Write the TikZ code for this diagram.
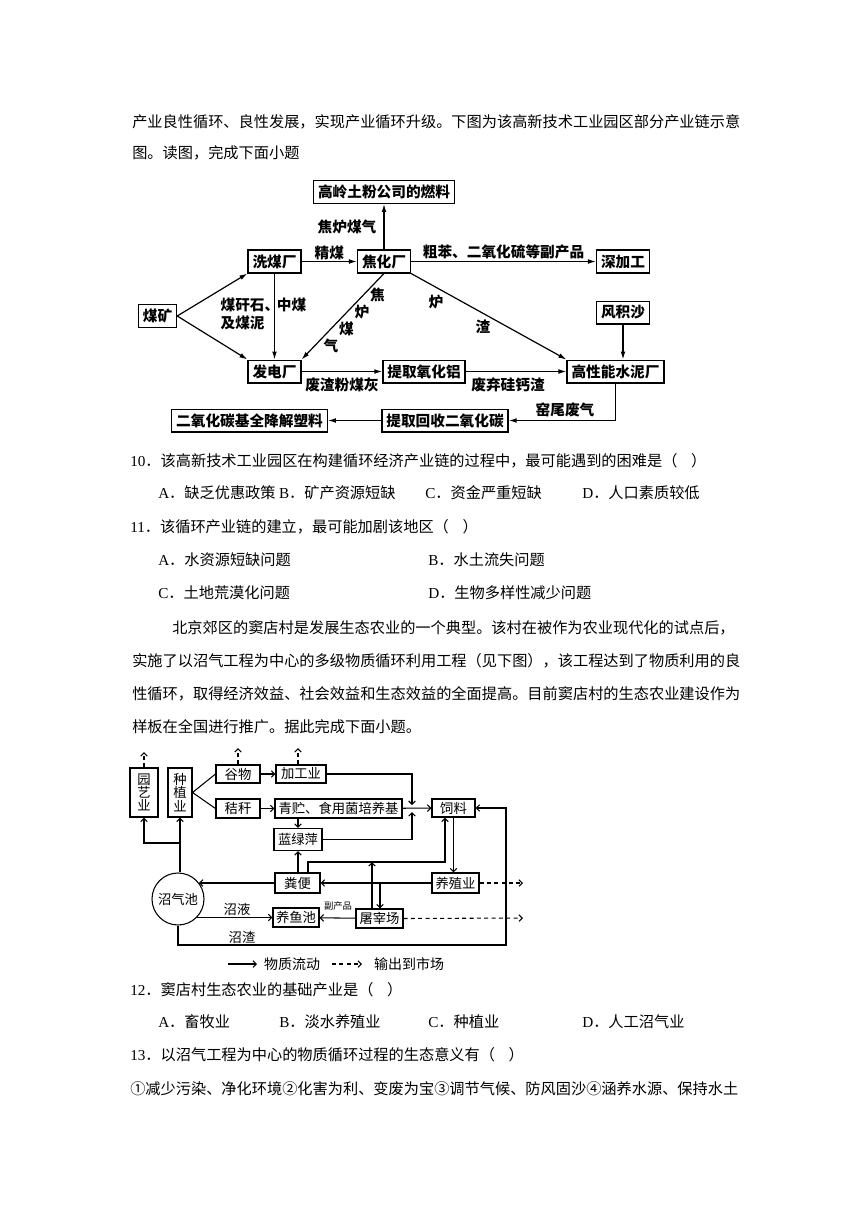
\documentclass[tikz,border=0pt]{standalone}
\usepackage{fontspec}
\newfontfamily\cjk{Noto Sans CJK SC}
\newfontfamily\lat{Liberation Serif}
\usetikzlibrary{arrows.meta,positioning,calc}
\XeTeXlinebreaklocale "zh"
\XeTeXlinebreakskip=0pt plus 2pt
\newcommand\jline[2]{\makebox[#1][s]{#2}}
\newcommand\kuohao{（\hspace{0.9em}）}
\tikzset{
  txt/.style={anchor=west,inner sep=0pt,font=\fontsize{11.4pt}{13pt}\selectfont\cjk},
  box1/.style={draw,line width=1pt,inner xsep=3.3pt,inner ysep=0pt,minimum height=17pt,font=\fontsize{11pt}{12pt}\selectfont\cjk\bfseries},
  lab1/.style={inner sep=1pt,font=\fontsize{11pt}{12pt}\selectfont\cjk\bfseries},
  box2/.style={draw,line width=0.8pt,inner sep=0pt,minimum height=14.25pt,font=\fontsize{10pt}{10pt}\selectfont\cjk},
  lab2/.style={inner sep=1pt,font=\fontsize{10pt}{10pt}\selectfont\cjk},
  a1/.style={-{Latex[length=6pt,width=3.6pt]},line width=0.9pt},
  a2/.style={-{Straight Barb[length=2.5pt,width=5pt]},line width=0.8pt},
  mkt/.style={a2,dash pattern=on 3pt off 2.5pt}
}
\begin{document}
\begin{tikzpicture}[x=0.75pt,y=-0.75pt]
\fill[white] (0,0) rectangle (860,1216);
\useasboundingbox (0,0) rectangle (860,1216);

\node[txt] (t1) at (132,122) {\jline{457.5pt}{产业良性循环、良性发展，实现产业循环升级。下图为该高新技术工业园区部分产业链示意}};
\node[txt] (t2) at (132,153) {图。读图，完成下面小题};

\node[box1] (fuel) at (384,192) {高岭土粉公司的燃料};
\node[box1] (xm) at (274.5,261.5) {洗煤厂};
\node[box1] (jh) at (384,261.5) {焦化厂};
\node[box1] (sj) at (623,261.5) {深加工};
\node[box1] (wm) at (157.5,316) {煤矿};
\node[box1] (fjs) at (623,312.5) {风积沙};
\node[box1] (fd) at (274.5,371.5) {发电厂};
\node[box1] (yhl) at (424,371.5) {提取氧化铝};
\node[box1] (sn) at (615.5,371.5) {高性能水泥厂};
\node[box1] (hs) at (445,420.5) {提取回收二氧化碳};
\node[box1] (sl1) at (249.5,420.5) {二氧化碳基全降解塑料};

\begin{scope}[a1]
\path (wm.east) edge (xm.south west)
      (wm.east) edge (fd.north west)
      (xm) edge node[lab1,above] {精煤} (jh)
      (jh) edge node[lab1,above] {粗苯、二氧化硫等副产品} (sj)
      (jh) edge (fuel)
      (xm) edge (fd)
      (jh.south) edge (fd.north east)
      (jh.south east) edge (sn.north west)
      (fjs.south) edge (fjs.south |- sn.north)
      (fd) edge node[lab1,below=3pt] {废渣粉煤灰} (yhl)
      (yhl) edge node[lab1,below=3pt,pos=0.42] {废弃硅钙渣} (sn)
      (hs) edge (sl1);
\draw (sn.south) |- (hs.east);
\end{scope}
\node[lab1] (jlmq) at (347,227) {焦炉煤气};
\node[lab1,anchor=west] (mgs) at (219,305) {煤矸石、};
\node[lab1,anchor=west] (jmn) at (219,323) {及煤泥};
\node[lab1] (zm) at (291.5,305) {中煤};
\foreach \c [count=\i] in {焦,炉,煤,气}
  \node[lab1] (jq\i) at ({393-15.5*\i},{278+17*\i}) {\c};
\node[lab1] (lu) at (436,302) {炉};
\node[lab1] (zha) at (483,327) {渣};
\node[lab1] (ywfq) at (565,410) {窑尾废气};

\node[txt] (q10) at (130,461) {{\lat 10}．该高新技术工业园区在构建循环经济产业链的过程中，最可能遇到的困难是\kuohao};
\node[txt] (q10a) at (158,493) {{\lat A}．缺乏优惠政策 {\lat B}．矿产资源短缺};
\node[txt] (q10c) at (425,493) {{\lat C}．资金严重短缺};
\node[txt] (q10d) at (582,493) {{\lat D}．人口素质较低};
\node[txt] (q11) at (130,527) {{\lat 11}．该循环产业链的建立，最可能加剧该地区\kuohao};
\node[txt] (q11a) at (158,560) {{\lat A}．水资源短缺问题};
\node[txt] (q11b) at (428,560) {{\lat B}．水土流失问题};
\node[txt] (q11c) at (158,593) {{\lat C}．土地荒漠化问题};
\node[txt] (q11d) at (428,593) {{\lat D}．生物多样性减少问题};
\node[txt] (p1) at (172,628) {\jline{427.5pt}{北京郊区的窦店村是发展生态农业的一个典型。该村在被作为农业现代化的试点后，}};
\node[txt] (p2) at (132,661) {\jline{457.5pt}{实施了以沼气工程为中心的多级物质循环利用工程（见下图），该工程达到了物质利用的良}};
\node[txt] (p3) at (132,694) {\jline{457.5pt}{性循环，取得经济效益、社会效益和生态效益的全面提高。目前窦店村的生态农业建设作为}};
\node[txt] (p4) at (132,727) {样板在全国进行推广。据此完成下面小题。};

\node[box2,minimum width=21pt,minimum height=36.75pt,align=center] (yy) at (144,792.5) {园\\艺\\业};
\node[box2,minimum width=18pt,minimum height=36.75pt,align=center] (zz) at (180,792.5) {种\\植\\业};
\node[box2,minimum width=33pt,minimum height=13.5pt] (gw) at (238,774) {谷物};
\node[box2,minimum width=33pt] (jg) at (238,808.5) {秸秆};
\node[box2,minimum width=37.5pt,minimum height=13.5pt] (jgy) at (301,774) {加工业};
\node[box2,minimum width=95.25pt] (qz) at (338.5,808.5) {青贮、食用菌培养基};
\node[box2,minimum width=36pt,minimum height=16.5pt] (lly) at (298,839.5) {蓝绿萍};
\node[box2,minimum width=32.25pt,minimum height=13.5pt] (sl) at (453.5,808) {饲料};
\node[box2,minimum width=35.25pt,minimum height=15pt] (yz) at (455.5,883) {养殖业};
\node[box2,minimum width=33.75pt,minimum height=15pt] (fb) at (297.5,883) {粪便};
\node[box2,minimum width=34.5pt] (ys) at (296,917.5) {养鱼池};
\node[box2,minimum width=35.25pt] (tz) at (379.5,918.5) {屠宰场};
\node[draw,circle,line width=0.8pt,minimum size=39pt,inner sep=0pt,font=\fontsize{10pt}{10pt}\selectfont\cjk] (zq) at (178,899) {沼气池};

\coordinate (ja) at (412,805);
\coordinate (jb) at (412,812);
\coordinate (b1) at (308,862);
\coordinate (b2) at (445,862);
\coordinate (b3) at (506,945);
\coordinate (b4) at (372,862);
\coordinate (b5) at (380,883);
\coordinate (b6) at (180,843);
\coordinate (m1) at (523,883);
\coordinate (m2) at (523,918);
\coordinate (u1) at (144,752);
\coordinate (u2) at (238,748);
\coordinate (u3) at (298,748);

\draw[line width=0.8pt] (zz.east) -- (gw.west) (zz.east) -- (jg.west);
\begin{scope}[a2]
\path (gw) edge (jgy)
      (jg) edge (qz)
      (qz) edge (sl)
      (yz) edge (fb)
      (tz) edge (ys)
      (qz.south -| lly.north) edge (lly.north)
      (lly.south |- fb.north) edge (lly.south)
      (sl.south) edge (sl.south |- yz.north)
      (fb.west) edge (zq.38 |- fb.west)
      (zq.-44 |- ys.west) edge (ys.west)
      (zz.south |- zq.north) edge (zz.south)
      (b4 |- tz.north) edge (b4)
      (b5) edge (b5 |- tz.north);
\draw (jgy.east) -| (ja);
\draw (lly.east) -| (jb);
\draw (b1 |- fb.north) -- (b1) -- (b2) -- (b2 |- sl.south);
\draw (zq.south) |- (b3) |- (sl.east);
\draw (b6) -| (yy.south);
\end{scope}
\begin{scope}[mkt]
\path (yz.east) edge (m1)
      (tz.east) edge (m2)
      (yy.north) edge (u1)
      (gw.north) edge (u2)
      (u3 |- jgy.north) edge (u3);
\end{scope}
\node[lab2] (zy) at (237,909) {沼液};
\node[lab2] (zzh) at (242,937) {沼渣};
\node[inner sep=0pt,font=\fontsize{7pt}{7pt}\selectfont\cjk] (fcp) at (338,906) {副产品};

\coordinate (g1) at (228,964);
\coordinate (g2) at (257,964);
\coordinate (g3) at (332,964);
\coordinate (g4) at (362,964);
\draw[a2] (g1) -- (g2);
\draw[mkt] (g3) -- (g4);
\node[lab2,font=\fontsize{10.5pt}{11pt}\selectfont\cjk] (wzld) at (292,964) {物质流动};
\node[lab2,font=\fontsize{10.5pt}{11pt}\selectfont\cjk] (scdsc) at (409,964) {输出到市场};

\node[txt] (q12) at (130,990) {{\lat 12}．窦店村生态农业的基础产业是\kuohao};
\node[txt] (q12a) at (158,1022) {{\lat A}．畜牧业};
\node[txt] (q12b) at (279,1022) {{\lat B}．淡水养殖业};
\node[txt] (q12c) at (428,1022) {{\lat C}．种植业};
\node[txt] (q12d) at (582,1022) {{\lat D}．人工沼气业};
\node[txt] (q13) at (130,1055) {{\lat 13}．以沼气工程为中心的物质循环过程的生态意义有\kuohao};
\node[txt] (q13o) at (130,1089) {①减少污染、净化环境②化害为利、变废为宝③调节气候、防风固沙④涵养水源、保持水土};
\end{tikzpicture}
\end{document}
